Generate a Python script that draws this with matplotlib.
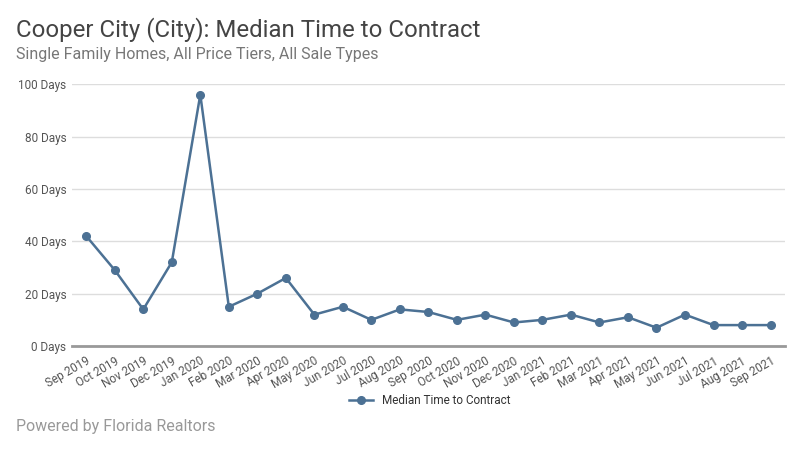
import matplotlib
matplotlib.use('Agg')
import matplotlib.pyplot as plt

months = ['Sep 2019', 'Oct 2019', 'Nov 2019', 'Dec 2019', 'Jan 2020', 'Feb 2020',
          'Mar 2020', 'Apr 2020', 'May 2020', 'Jun 2020', 'Jul 2020', 'Aug 2020',
          'Sep 2020', 'Oct 2020', 'Nov 2020', 'Dec 2020', 'Jan 2021', 'Feb 2021',
          'Mar 2021', 'Apr 2021', 'May 2021', 'Jun 2021', 'Jul 2021', 'Aug 2021',
          'Sep 2021']
days = [42, 29, 14, 32, 96, 15, 20, 26, 12, 15, 10, 14, 13, 10, 12, 9, 10, 12,
        9, 11, 7, 12, 8, 8, 8]
yticks = [0, 20, 40, 60, 80, 100]

plt.rcParams['font.family'] = ['Roboto', 'DejaVu Sans']

fig = plt.figure(figsize=(8, 4.5), dpi=100)
ax = fig.add_axes([0.09, 0.231, 0.891, 0.582])

color = '#4c7194'
ax.plot(range(len(days)), days, color=color, linewidth=1.8, marker='o',
        markersize=5.5, label='Median Time to Contract', clip_on=False, zorder=3)

ax.set_xlim(-0.5, len(days) - 0.5)
ax.set_ylim(0, 100)
ax.set_yticks(yticks)
ax.set_yticklabels([f'{v} Days' for v in yticks], fontsize=8.5, color='#555555')
ax.set_xticks(range(len(months)))
ax.set_xticklabels(months, rotation=30, ha='right', rotation_mode='anchor',
                   fontsize=8.5, color='#555555')
ax.tick_params(axis='both', length=0, pad=4)
ax.tick_params(axis='x', pad=6)

ax.grid(axis='y', color='#dddddd', linewidth=1)
ax.set_axisbelow(True)
for s in ['top', 'right', 'left']:
    ax.spines[s].set_visible(False)
ax.spines['bottom'].set_color('#999999')
ax.spines['bottom'].set_linewidth(2)

leg = ax.legend(loc='center', frameon=False, fontsize=8.5, handlelength=2,
                labelcolor='#333333')
leg.set_bbox_to_anchor((430 / 800, 1 - 401 / 450), transform=fig.transFigure)

fig.text(16 / 800, 1 - 30 / 450, 'Cooper City (City): Median Time to Contract',
         fontsize=17.3, color='#444444', va='center', ha='left')
fig.text(16 / 800, 1 - 54 / 450, 'Single Family Homes, All Price Tiers, All Sale Types',
         fontsize=11.5, color='#777777', va='center', ha='left')
fig.text(16 / 800, 1 - 426 / 450, 'Powered by Florida Realtors',
         fontsize=11.5, color='#999999', va='center', ha='left')

fig.savefig('out.png', dpi=100)
